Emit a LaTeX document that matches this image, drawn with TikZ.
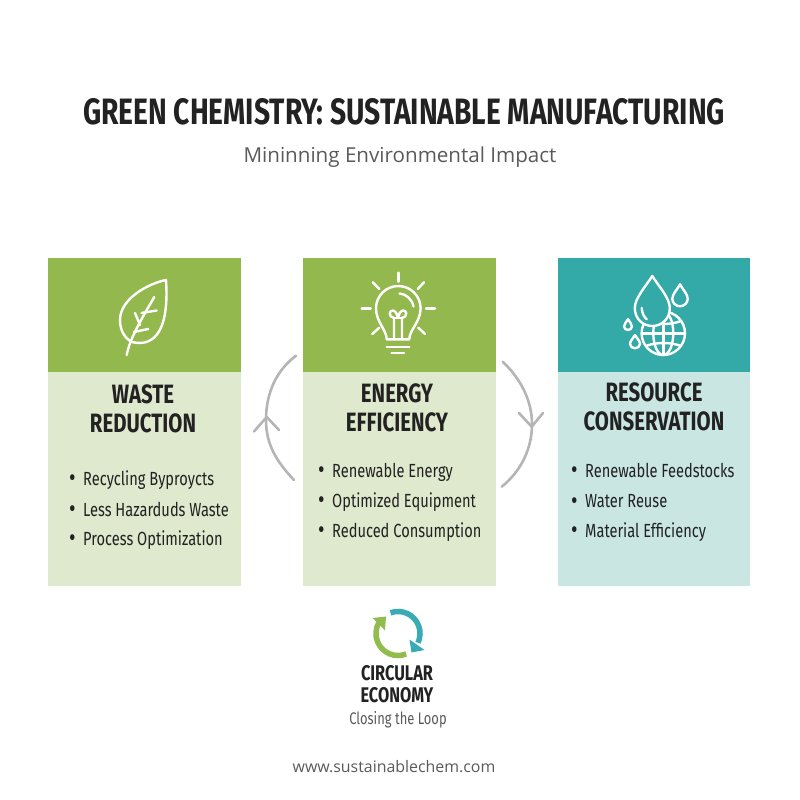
\documentclass[tikz,border=0pt]{standalone}
\usepackage{fontspec}
\setmainfont{Open Sans}
\newfontfamily\dinfont[FakeStretch=0.77]{Fira Sans}
\usetikzlibrary{arrows}
\definecolor{leafgreen}{HTML}{93B84D}
\definecolor{palegreen}{HTML}{DFE9CD}
\definecolor{seateal}{HTML}{33A9A8}
\definecolor{paleteal}{HTML}{C9E6E3}
\definecolor{loopteal}{HTML}{38ABB5}
\definecolor{loopgreen}{HTML}{93BC4F}
\definecolor{inkdark}{HTML}{222222}
\definecolor{inkgray}{HTML}{5A5A5A}
\definecolor{arcgray}{HTML}{B5B5B5}
\tikzset{
  head/.style={inner sep=0pt,minimum width=192.5pt,minimum height=114pt,anchor=north west},
  body/.style={inner sep=0pt,minimum width=192.5pt,minimum height=214pt,anchor=north west},
  cardtitle/.style={inner sep=0pt,align=center,text=inkdark,font=\dinfont\bfseries\fontsize{26.5}{28.5}\selectfont},
  item/.style={inner sep=0pt,anchor=west,text=inkdark,font=\dinfont\fontsize{19}{20}\selectfont},
  icon/.style={draw=white,line width=2.4pt,line cap=round,line join=round},
  cycle/.style={draw=arcgray,line width=2.6pt,line cap=round,line join=round},
}
\newcommand{\dotitem}[1]{\makebox[14pt][l]{\raisebox{-1.6pt}{\fontsize{26}{20}\selectfont\textbullet}}#1}
\begin{document}
\begin{tikzpicture}[x=1pt,y=-1pt]
    \useasboundingbox (0,0) rectangle (800,800);
    \node[inner sep=0pt,text=inkdark,font=\dinfont\bfseries\fontsize{36.7}{40}\selectfont] (title) at (404,112) {GREEN CHEMISTRY: SUSTAINABLE MANUFACTURING};
    \node[inner sep=0pt,text=inkgray,font=\fontsize{20.6}{24}\selectfont] (subtitle) at (400,157) {Mininning Environmental Impact};

    % cards
    \node[head,fill=leafgreen] (wastetop) at (48,258) {};
    \node[body,fill=palegreen] (wastebox) at (48,372) {};
    \node[head,fill=leafgreen] (energytop) at (303,258) {};
    \node[body,fill=palegreen] (energybox) at (303,372) {};
    \node[head,fill=seateal] (resourcetop) at (557.5,258) {};
    \node[body,fill=paleteal] (resourcebox) at (557.5,372) {};

    \node[cardtitle] (wastehead) at (143,409) {WASTE\\REDUCTION};
    \node[cardtitle] (energyhead) at (397,408) {ENERGY\\EFFICIENCY};
    \node[cardtitle] (resourcehead) at (654,407) {RESOURCE\\CONSERVATION};

    \node[item] (waste1) at (69,480) {\dotitem{Recycling Byproycts}};
    \node[item] (waste2) at (69,510) {\dotitem{Less Hazarduds Waste}};
    \node[item] (waste3) at (69,540) {\dotitem{Process Optimization}};
    \node[item] (energy1) at (318,472) {\dotitem{Renewable Energy}};
    \node[item] (energy2) at (318,502) {\dotitem{Optimized Equipment}};
    \node[item] (energy3) at (318,532) {\dotitem{Reduced Consumption}};
    \node[item] (resource1) at (571,471) {\dotitem{Renewable Feedstocks}};
    \node[item] (resource2) at (571,502) {\dotitem{Water Reuse}};
    \node[item] (resource3) at (571,532) {\dotitem{Material Efficiency}};

    % leaf
    \draw[icon] (166,280) .. controls (150,283) and (120,298) .. (120,320) .. controls (120,332) and (126,339) .. (132,342) .. controls (148,346) and (170,340) .. (166,280) -- cycle;
    \draw[icon] (126.7,355) .. controls (130,338) and (142,318) .. (154.3,297);
    \draw[icon] (141.5,313) -- (156.7,310.5);
    \draw[icon] (135,313) -- (140,325);
    \draw[icon] (134,332) -- (148.3,329);

    % bulb
    \draw[icon] (386.7,339.3) .. controls (386.7,330) and (376,322) .. (376,308.3) arc[start angle=180,end angle=0,radius=22.3pt] .. controls (420.6,322) and (409.3,330) .. (409.3,339.3) -- cycle;
    \draw[icon] (386.7,346.7) -- (409.3,346.7);
    \draw[icon] (391.5,353) -- (404,353);
    \draw[icon] (398.3,272.7) -- (398.3,281.7);
    \draw[icon] (361.7,308.3) -- (370.7,308.3);
    \draw[icon] (426,308.3) -- (435,308.3);
    \draw[icon] (372.7,282.3) -- (379.3,289);
    \draw[icon] (424,282.3) -- (417.7,289);
    \draw[icon] (372.3,334) -- (379.3,327.7);
    \draw[icon] (425,334) -- (418.3,327.7);
    \draw[icon] (399.5,293.5) .. controls (406,294) and (412,299) .. (413.5,306.5);
    \draw[icon] (394,339) -- (394,318) .. controls (388,317) and (389,310) .. (393,310.5) .. controls (396,311) and (397.5,315) .. (398,318) .. controls (398.5,315) and (400,311) .. (403,310.5) .. controls (407,310) and (408,317) .. (402,318) -- (402,339);
    \draw[icon] (394,318) -- (402,318);

    % globe and drops
    \begin{scope}[icon]
      \draw (663.3,333.3) circle[radius=21.7pt];
      \draw (663.3,333.3) ellipse[x radius=10pt,y radius=21.7pt];
      \draw (663.3,311.6) -- (663.3,355);
      \draw (642,333.3) -- (685,333.3);
      \draw (646,321) .. controls (656,325) and (671,325) .. (681,321);
      \draw (646,346) .. controls (656,342) and (671,342) .. (681,346);
      \draw[fill=seateal] (652.3,276) .. controls (646,286) and (634.8,298) .. (634.8,308) .. controls (634.8,319) and (643,326) .. (652.3,326) .. controls (661.5,326) and (669.8,319) .. (669.8,308) .. controls (669.8,298) and (658.5,286) .. (652.3,276) -- cycle;
      \draw (641.7,308) .. controls (642,313) and (644,317) .. (646.7,319.3);
      \draw (680,284.3) .. controls (677,290) and (672.3,294) .. (672.3,299) .. controls (672.3,303) and (676,306.3) .. (680,306.3) .. controls (684,306.3) and (687.7,303) .. (687.7,299) .. controls (687.7,294) and (683,290) .. (680,284.3) -- cycle;
      \draw (628,319.3) .. controls (626.5,322) and (624,324) .. (624,326.5) .. controls (624,328.5) and (626,330) .. (628,330) .. controls (630,330) and (632,328.5) .. (632,326.5) .. controls (632,324) and (629.5,322) .. (628,319.3) -- cycle;
      \draw (635,335) .. controls (633,338.5) and (630,341) .. (630,344) .. controls (630,346.5) and (632.5,348.3) .. (635,348.3) .. controls (637.5,348.3) and (640,346.5) .. (640,344) .. controls (640,341) and (637,338.5) .. (635,335) -- cycle;
    \end{scope}

    % arcs between the cards
    \coordinate (backlow) at (294,480);
    \coordinate (backhigh) at (296,355.7);
    \coordinate (backtip) at (266.7,417);
    \coordinate (backleft) at (254,431.5);
    \coordinate (backright) at (279,430);
    \draw[cycle] (backlow) .. controls (277,462) and (266,445) .. (266,420) .. controls (266,392) and (277,370) .. (backhigh);
    \draw[cycle] (backleft) -- (backtip) -- (backright);
    \coordinate (fwdhigh) at (502.7,361.7);
    \coordinate (fwdlow) at (501.7,486.7);
    \coordinate (fwdtip) at (531.7,426.7);
    \coordinate (fwdleft) at (519,413);
    \coordinate (fwdright) at (543,413);
    \draw[cycle] (fwdhigh) .. controls (520,378) and (532,400) .. (532,424) .. controls (532,450) and (520,472) .. (fwdlow);
    \draw[cycle] (fwdleft) -- (fwdtip) -- (fwdright);

    % loop icon
    \draw[loopteal,line width=5.5pt] (390.5,612.8) arc[start angle=110,end angle=-25,radius=22pt];
    \fill[loopteal] (409.5,639.5) -- (424.5,650) -- (411.5,652.5) -- cycle;
    \draw[loopgreen,line width=5.5pt] (406.2,653.9) arc[start angle=-68,end angle=-210,radius=22pt];
    \fill[loopgreen] (372.7,618) -- (386,616.5) -- (385,630.5) -- cycle;

    \node[inner sep=0pt,align=center,text=inkdark,font=\dinfont\bfseries\fontsize{21.2}{22}\selectfont] (circular) at (397,684) {CIRCULAR\\ECONOMY};
    \node[inner sep=0pt,text=inkgray,font=\dinfont\fontsize{16.8}{18}\selectfont] (closing) at (398,720) {Closing the Loop};
    \node[inner sep=0pt,text=inkgray,font=\fontsize{15.9}{18}\selectfont] (website) at (394,767) {www.sustainablechem.com};
\end{tikzpicture}
\end{document}
